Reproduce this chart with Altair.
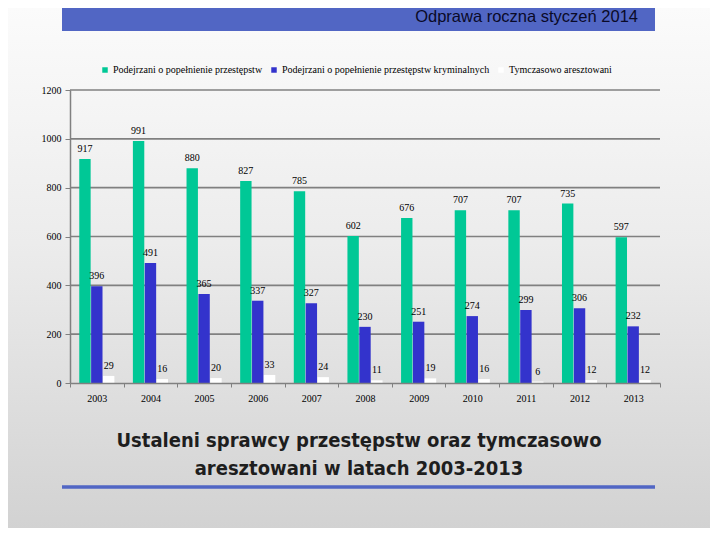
import altair as alt
import pandas as pd

years = ["2003", "2004", "2005", "2006", "2007", "2008", "2009", "2010", "2011", "2012", "2013"]
podejrzani = [917, 991, 880, 827, 785, 602, 676, 707, 707, 735, 597]
kryminalni = [396, 491, 365, 337, 327, 230, 251, 274, 299, 306, 232]
aresztowani = [29, 16, 20, 33, 24, 11, 19, 16, 6, 12, 12]
series = [
    "Podejrzani o popełnienie przestępstw",
    "Podejrzani o popełnienie przestępstw kryminalnych",
    "Tymczasowo aresztowani",
]
colors = ["#00c896", "#3333cc", "#ffffff"]
y_ticks = [0, 200, 400, 600, 800, 1000, 1200]
header_title = "Odprawa roczna styczeń 2014"
bottom_title = ["Ustaleni  sprawcy przestępstw oraz tymczasowo", "aresztowani  w latach 2003-2013"]

rows = []
for vals, s in zip([podejrzani, kryminalni, aresztowani], series):
    for y, v in zip(years, vals):
        rows.append({"rok": y, "seria": s, "wartosc": v})
df = pd.DataFrame(rows)
grid_df = pd.DataFrame({"wartosc": y_ticks[1:]})

W, H = 590, 293
one = pd.DataFrame({"a": [0]})

bg = alt.Chart(one).mark_rect(
    fill=alt.Gradient(
        gradient="linear",
        stops=[alt.GradientStop(offset=0, color="#fbfbfb"),
               alt.GradientStop(offset=0.45, color="#ececec"),
               alt.GradientStop(offset=1, color="#d2d2d2")],
        x1=0, x2=0, y1=0, y2=1),
    clip=False,
).encode(x=alt.value(-62), x2=alt.value(642), y=alt.value(-82), y2=alt.value(440))

header = alt.Chart(one).mark_rect(color="#5166c4", clip=False).encode(
    x=alt.value(-8), x2=alt.value(585), y=alt.value(-82), y2=alt.value(-59))

header_text = alt.Chart(one).mark_text(
    text=header_title, font="Liberation Sans", fontSize=16.5, color="#0a0a28",
    align="right", baseline="alphabetic", clip=False,
).encode(x=alt.value(568), y=alt.value(-68))

yscale = alt.Scale(domain=[0, 1200], nice=False)

grid = alt.Chart(grid_df).mark_rule(color="#808080", strokeWidth=1.6).encode(
    y=alt.Y("wartosc:Q", scale=yscale), x=alt.value(0), x2=alt.value(W))

xenc = alt.X("rok:N", sort=years, title=None,
             scale=alt.Scale(paddingInner=0, paddingOuter=0),
             axis=alt.Axis(labelAngle=0, tickBand="extent", grid=False, zindex=1,
                           labelFont="Liberation Serif", labelFontSize=10,
                           labelColor="#000000", labelPadding=6,
                           domainColor="#808080", tickColor="#808080",
                           tickSize=4, domainWidth=1.5))
yenc = alt.Y("wartosc:Q", title=None, scale=yscale,
             axis=alt.Axis(values=y_ticks, grid=False, zindex=1, format="d",
                           labelFont="Liberation Serif", labelFontSize=10,
                           labelColor="#000000", labelPadding=4,
                           domainColor="#808080", tickColor="#808080",
                           tickSize=5, domainWidth=1.5))
xoff = alt.XOffset("seria:N", sort=series,
                   scale=alt.Scale(paddingOuter=0.78, paddingInner=0.04))

bars = alt.Chart(df).mark_bar().encode(
    x=xenc, y=yenc, xOffset=xoff,
    color=alt.Color("seria:N", sort=series,
                    scale=alt.Scale(domain=series, range=colors),
                    legend=alt.Legend(title=None, orient="none", direction="horizontal",
                                      legendX=30, legendY=-25, symbolType="square",
                                      symbolSize=30, symbolStrokeWidth=0,
                                      labelFont="Liberation Serif", labelFontSize=10,
                                      labelColor="#000000", columnPadding=6,
                                      labelOffset=3, labelLimit=0)),
)

labels = alt.Chart(df).mark_text(
    font="Liberation Serif", fontSize=10, color="#000000", baseline="bottom", dy=-5,
).encode(x=alt.X("rok:N", sort=years), y="wartosc:Q", xOffset=xoff, text="wartosc:Q")

bottom_line = alt.Chart(one).mark_rule(color="#5166c4", strokeWidth=3.5, clip=False).encode(
    x=alt.value(-8), x2=alt.value(585), y=alt.value(397))

bottom_text = alt.Chart(one).mark_text(
    text=bottom_title, font="DejaVu Sans Condensed", fontWeight="bold", fontSize=20,
    color="#1e1e1e", align="center", baseline="middle", lineHeight=28, clip=False,
).encode(x=alt.value(289), y=alt.value(351))

chart = alt.layer(bg, header, header_text, grid, bars, labels, bottom_line, bottom_text).properties(
    width=W, height=H,
    autosize=alt.AutoSizeParams(type="none"),
    padding={"left": 62, "top": 82, "right": 50, "bottom": 145},
    background="#d9d9d9",
).configure_view(stroke=None)

chart.save("out.html", embed_options={"renderer": "svg", "actions": False})
